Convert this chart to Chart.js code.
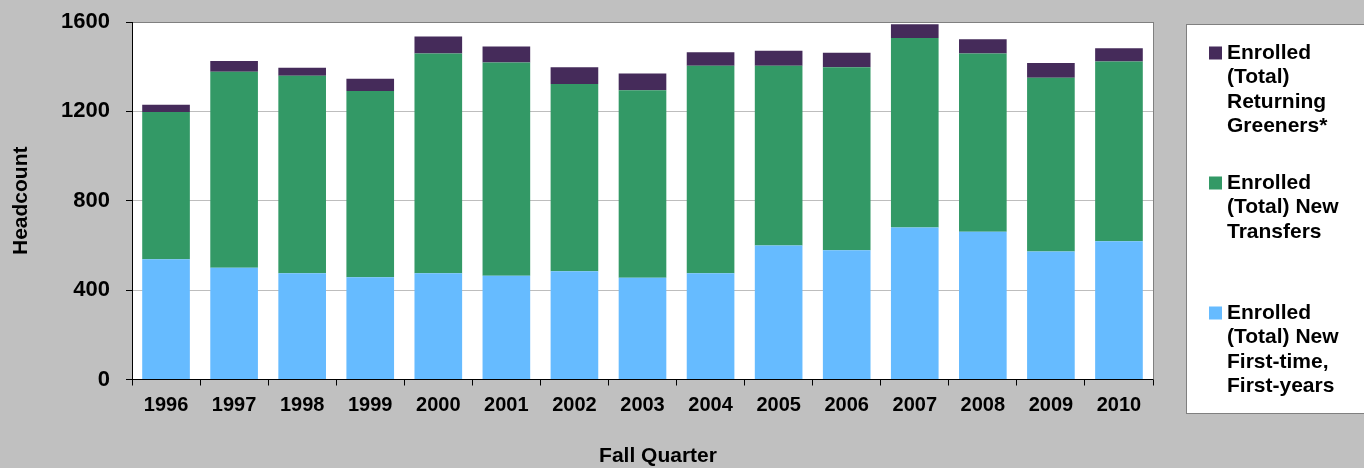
<!DOCTYPE html>
<html>
<head>
<meta charset="utf-8">
<title>Fall Quarter Headcount</title>
<script src="https://cdn.jsdelivr.net/npm/chart.js@4.4.0/dist/chart.umd.min.js"></script>
<style>
  html, body { margin: 0; padding: 0; background: #c0c0c0; }
  #wrap { width: 1364px; height: 468px; }
</style>
</head>
<body>
<div id="wrap"><canvas id="barChart" width="1364" height="468"></canvas></div>
<script>
// data
var years = ['1996', '1997', '1998', '1999', '2000', '2001', '2002', '2003', '2004', '2005', '2006', '2007', '2008', '2009', '2010'];
var firstYears = [538, 500, 475, 458, 476, 464, 485, 455, 475, 600, 579, 680, 661, 573, 619];
var transfers = [659, 877, 884, 833, 983, 955, 837, 840, 929, 804, 818, 848, 798, 777, 804];
var greeners = [33, 49, 36, 55, 76, 71, 75, 75, 61, 67, 65, 62, 64, 66, 60];
var seriesNames = [
    'Enrolled (Total) New First-time, First-years',
    'Enrolled (Total) New Transfers',
    'Enrolled (Total) Returning Greeners*'
];
var yMax = 1600;
var yStep = 400;
var xTitle = 'Fall Quarter';
var yTitle = 'Headcount';

var FONT = "'Liberation Sans', Arial, sans-serif";

function wrapText(ctx, text, maxW) {
    var words = text.split(' ');
    var lines = [];
    var cur = '';
    for (var i = 0; i < words.length; i++) {
        var test = cur ? cur + ' ' + words[i] : words[i];
        if (cur && ctx.measureText(test).width > maxW) {
            lines.push(cur);
            cur = words[i];
        } else {
            cur = test;
        }
    }
    if (cur) lines.push(cur);
    return lines;
}

// white plot area + grey frame on the right
var plotBg = {
    id: 'plotBg',
    beforeDraw: function(chart) {
        var a = chart.chartArea;
        var ctx = chart.ctx;
        ctx.save();
        ctx.fillStyle = '#ffffff';
        ctx.fillRect(a.left, a.top, a.right - a.left, a.bottom - a.top);
        ctx.restore();
    },
    afterDatasetsDraw: function(chart) {
        var a = chart.chartArea;
        var ctx = chart.ctx;
        ctx.save();
        ctx.strokeStyle = '#808080';
        ctx.lineWidth = 1;
        ctx.beginPath();
        ctx.moveTo(Math.round(a.right) + 0.5, a.top);
        ctx.lineTo(Math.round(a.right) + 0.5, a.bottom);
        ctx.stroke();
        ctx.restore();
    }
};

// boxed legend on the right + x axis title
var boxLegend = {
    id: 'boxLegend',
    afterDraw: function(chart) {
        var ctx = chart.ctx;
        ctx.save();
        ctx.fillStyle = '#ffffff';
        ctx.fillRect(1186, 24, 200, 389);
        ctx.strokeStyle = '#808080';
        ctx.lineWidth = 1;
        ctx.strokeRect(1186.5, 24.5, 200, 389);

        ctx.font = 'bold 21px ' + FONT;
        ctx.textBaseline = 'middle';
        ctx.textAlign = 'left';
        var ds = chart.data.datasets;
        var rowY = [53, 183, 313];
        var k = 0;
        for (var i = ds.length - 1; i >= 0; i--) {
            var lines = wrapText(ctx, ds[i].label, 130);
            ctx.fillStyle = ds[i].backgroundColor;
            ctx.fillRect(1209, rowY[k] - 6.5, 13, 13);
            ctx.fillStyle = '#000000';
            for (var j = 0; j < lines.length; j++) {
                ctx.fillText(lines[j], 1227, rowY[k] + j * 24.5);
            }
            k++;
        }

        ctx.textAlign = 'center';
        ctx.fillText(xTitle, 658, 456);
        ctx.restore();
    }
};

var ctx = document.getElementById('barChart').getContext('2d');
new Chart(ctx, {
    type: 'bar',
    data: {
        labels: years,
        datasets: [
            { label: seriesNames[0], data: firstYears, backgroundColor: '#66bbff' },
            { label: seriesNames[1], data: transfers, backgroundColor: '#339966' },
            { label: seriesNames[2], data: greeners, backgroundColor: '#452b5a' }
        ]
    },
    options: {
        responsive: false,
        animation: false,
        devicePixelRatio: 1,
        layout: { padding: { top: 22, right: 211, bottom: 0, left: 0 } },
        datasets: { bar: { barPercentage: 0.7, categoryPercentage: 1.0, borderWidth: 0 } },
        plugins: {
            legend: { display: false },
            tooltip: { enabled: false }
        },
        scales: {
            x: {
                stacked: true,
                grid: { offset: true, drawOnChartArea: false, tickLength: 6, tickColor: '#000000' },
                border: { color: '#000000', width: 1 },
                ticks: { color: '#000000', padding: 8, font: { family: FONT, size: 20, weight: 'bold' } },
                afterFit: function(scale) { scale.height = 88.5; }
            },
            y: {
                stacked: true,
                min: 0,
                max: yMax,
                ticks: {
                    stepSize: yStep,
                    color: '#000000',
                    padding: 16,
                    font: { family: FONT, size: 22, weight: 'bold' },
                    callback: function(v) { return String(v); }
                },
                grid: {
                    color: function(c) { return c.tick && c.tick.value === yMax ? '#808080' : '#bdbdbd'; },
                    tickLength: 6,
                    tickColor: '#000000'
                },
                border: { color: '#000000', width: 1 },
                title: {
                    display: true,
                    text: yTitle,
                    color: '#000000',
                    padding: { top: 9, bottom: 0 },
                    font: { family: FONT, size: 21, weight: 'bold' }
                },
                afterFit: function(scale) {
                    scale.width = 132;
                    // labels may overhang the plot, do not reserve room for them
                    scale.paddingTop = 0;
                    scale.paddingBottom = 0;
                }
            }
        }
    },
    plugins: [plotBg, boxLegend]
});
</script>
</body>
</html>
